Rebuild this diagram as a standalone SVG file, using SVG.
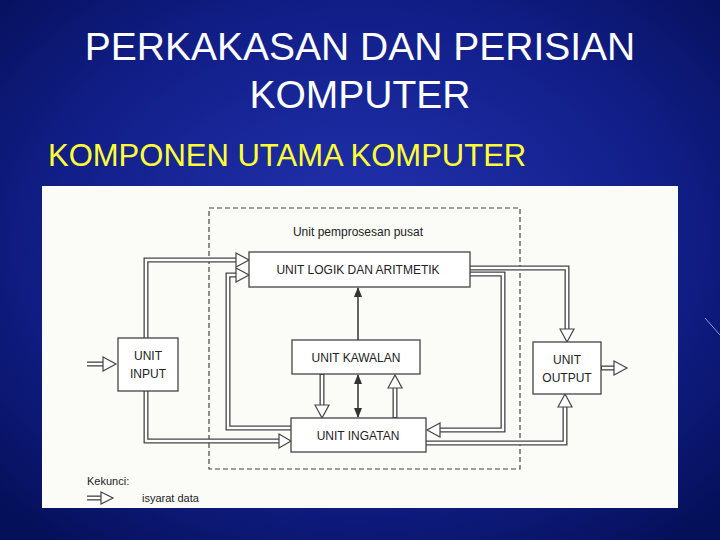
<svg xmlns="http://www.w3.org/2000/svg" width="720" height="540" viewBox="0 0 720 540">
<defs>
<radialGradient id="bg" cx="50%" cy="45%" r="70%">
<stop offset="0" stop-color="#2233b0"/>
<stop offset="0.6" stop-color="#121f8a"/>
<stop offset="1" stop-color="#05105a"/>
</radialGradient>
<marker id="ah" markerWidth="10" markerHeight="10" refX="9" refY="5" orient="auto" markerUnits="userSpaceOnUse">
<path d="M0,1 L10,5 L0,9 Z" fill="#333"/>
</marker>
<marker id="ahs" markerWidth="10" markerHeight="10" refX="1" refY="5" orient="auto" markerUnits="userSpaceOnUse">
<path d="M10,1 L0,5 L10,9 Z" fill="#333"/>
</marker>
</defs>
<style>
.t{font-family:"Liberation Sans",Arial,sans-serif}
.box{fill:#fff;stroke:#444;stroke-width:1.3}
.lb{font-family:"Liberation Sans",Arial,sans-serif;font-size:12px;fill:#222;text-anchor:middle}
.o{fill:none;stroke:#444;stroke-width:5}
.i{fill:none;stroke:#fff;stroke-width:2.4}
.h{fill:#fff;stroke:#444;stroke-width:1.2}
</style>
<rect width="720" height="540" fill="url(#bg)"/>
<line x1="705" y1="318" x2="720" y2="335" stroke="#8899dd" stroke-width="1"/>
<text class="t" x="360" y="60" font-size="39" fill="#fff" text-anchor="middle">PERKAKASAN DAN PERISIAN</text>
<text class="t" x="360" y="108" font-size="39" fill="#fff" text-anchor="middle">KOMPUTER</text>
<text class="t" x="48" y="166" font-size="31" fill="#ffff33">KOMPONEN UTAMA KOMPUTER</text>
<rect x="42" y="186" width="636" height="322" fill="#fbfbf8"/>
<rect x="209" y="208" width="311" height="261" fill="none" stroke="#444" stroke-width="1.2" stroke-dasharray="5,3"/>
<text class="lb" x="358" y="236" font-size="11">Unit pemprosesan pusat</text>
<g id="connectors">
<path class="o" d="M146 338 V260 H237"/><path class="i" d="M146 338 V260 H238"/>
<polygon class="h" points="236,253 249,260 236,267"/>
<path class="o" d="M291 428 H228 V275 H237"/><path class="i" d="M292 428 H228 V275 H238"/>
<polygon class="h" points="236,268 249,275 236,282"/>
<path class="o" d="M146 391 V441 H280"/><path class="i" d="M146 390 V441 H281"/>
<polygon class="h" points="279,434 291,441 279,448"/>
<path class="o" d="M470 268 H567 V330"/><path class="i" d="M469 268 H567 V331"/>
<polygon class="h" points="560,329 567,342 574,329"/>
<path class="o" d="M470 274 H503 V430 H440"/><path class="i" d="M469 274 H503 V430 H439"/>
<polygon class="h" points="440,423 427,430 440,437"/>
<path class="o" d="M426 443 H565 V406"/><path class="i" d="M425 443 H565 V405"/>
<polygon class="h" points="558,407 565,394 572,407"/>
<path class="o" d="M322 374 V406"/><path class="i" d="M322 375 V407"/>
<polygon class="h" points="315,405 322,418 329,405"/>
<path class="o" d="M395 418 V386"/><path class="i" d="M395 417 V385"/>
<polygon class="h" points="388,388 395,375 402,388"/>
<path class="o" d="M87 364 H104"/><path class="i" d="M86 364 H105"/>
<polygon class="h" points="103,357 116,364 103,371"/>
<path class="o" d="M601 368 H615"/><path class="i" d="M602 368 H616"/>
<polygon class="h" points="614,361 627,368 614,375"/>
<path class="o" d="M87 498 H102"/><path class="i" d="M86 498 H103"/>
<polygon class="h" points="101,492 113,498 101,504"/>
<line x1="358" y1="340" x2="358" y2="288" stroke="#333" stroke-width="1.5" marker-end="url(#ah)"/>
<line x1="358" y1="375" x2="358" y2="417" stroke="#333" stroke-width="1.5" marker-start="url(#ahs)" marker-end="url(#ah)"/>
</g>
<g id="alu"><rect class="box" x="249" y="252" width="221" height="35"/><text class="lb" x="358" y="274">UNIT LOGIK DAN ARITMETIK</text></g>
<g id="kawalan"><rect class="box" x="292" y="340" width="128" height="34"/><text class="lb" x="356" y="362">UNIT KAWALAN</text></g>
<g id="ingatan"><rect class="box" x="291" y="418" width="135" height="34"/><text class="lb" x="358" y="440">UNIT INGATAN</text></g>
<g id="input"><rect class="box" x="118" y="338" width="60" height="53"/><text class="lb" x="148" y="360">UNIT</text><text class="lb" x="148" y="378">INPUT</text></g>
<g id="output"><rect class="box" x="533" y="342" width="68" height="52"/><text class="lb" x="567" y="364">UNIT</text><text class="lb" x="567" y="382">OUTPUT</text></g>
<text class="t" x="87" y="485" font-size="11" fill="#222">Kekunci:</text>
<text class="t" x="142" y="502" font-size="11" fill="#222">isyarat data</text>
</svg>
